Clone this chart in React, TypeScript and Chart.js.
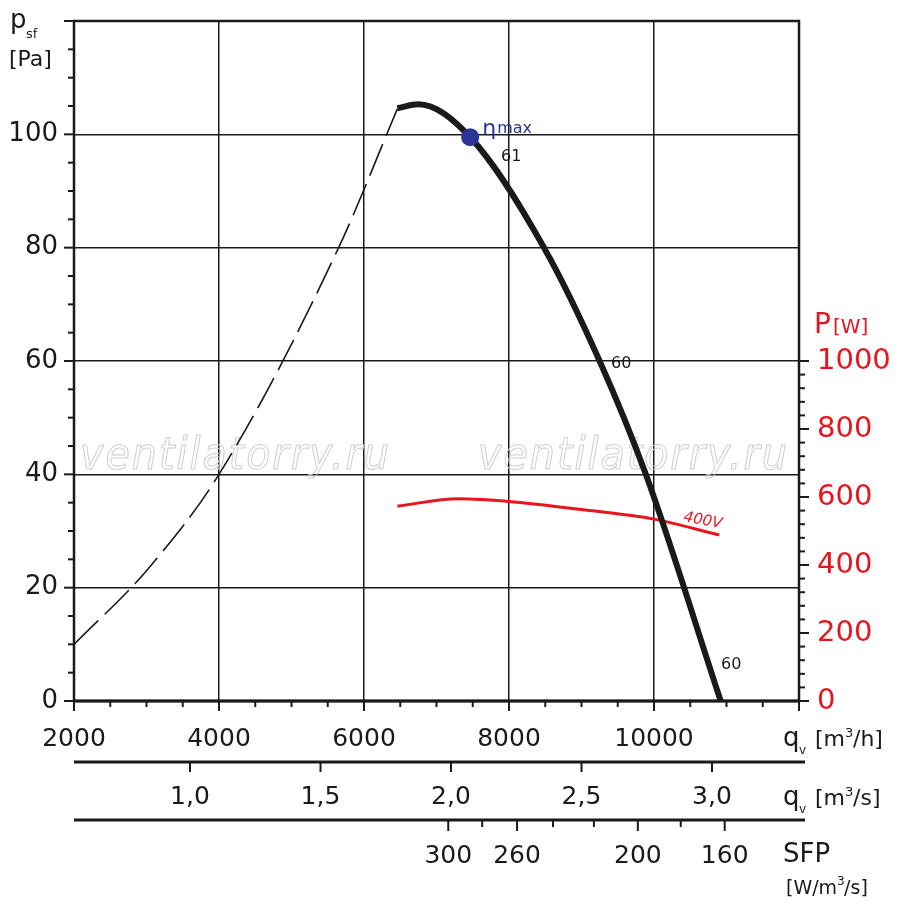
import React, { useEffect, useRef } from 'react';
import { Chart, registerables } from 'chart.js';

Chart.register(...registerables);

// pressure curve, dashed (unstable) part
const stallFlow = [2000, 3000, 4000, 5650, 6460];
const stallPressure = [10, 23, 40, 80, 104.5];
// pressure curve, working part
const workFlow = [6460, 6750, 7464, 8483, 9250, 9887, 10920];
const workPressure = [104.6, 105.3, 99.5, 80, 60, 40, 0];
// power input, 400V
const powerFlow = [6460, 7300, 8000, 9000, 10000, 10900];
const powerWatts = [573, 595, 587, 563, 535, 488];
// secondary axes
const flowSecondsTicks = [1.0, 1.5, 2.0, 2.5, 3.0];
const sfpTicks = [300, 280, 260, 240, 220, 200, 180, 160];
const sfpFlow = [7162, 7630, 8111, 8607, 9171, 9777, 10369, 10975];
const sfpLabelled = [300, 260, 200, 160];

const FONT = "'DejaVu Sans', sans-serif";
const RED = '#e8141e';

const pts = (xs: number[], ys: number[]) => xs.map((x, i) => ({ x, y: ys[i] }));

const decorations = {
  id: 'decorations',
  beforeDatasetsDraw(chart: any) {
    const { ctx } = chart;
    ctx.save();
    ctx.font = `italic 44px 'DejaVu Sans Condensed', ${FONT}`;
    ctx.strokeStyle = '#cfcfcf';
    ctx.lineWidth = 1;
    ctx.textBaseline = 'middle';
    (ctx as any).letterSpacing = '2px';
    ctx.strokeText('ventilatorry.ru', 80, 458);
    ctx.strokeText('ventilatorry.ru', 478, 458);
    ctx.restore();
  },
  afterDraw(chart: any) {
    const { ctx, chartArea: a, scales } = chart;
    const x = scales.x, y = scales.y, y2 = scales.y2;
    ctx.save();
    ctx.strokeStyle = '#1a1a1a';
    ctx.fillStyle = '#1a1a1a';
    // frame
    ctx.lineWidth = 2.5;
    ctx.strokeRect(a.left, a.top, a.right - a.left, a.bottom - a.top);
    ctx.lineWidth = 3;
    ctx.beginPath(); ctx.moveTo(a.left, a.bottom); ctx.lineTo(a.right, a.bottom); ctx.stroke();
    ctx.lineWidth = 2;
    // left ticks
    for (let v = 0; v <= 120; v += 5) {
      const py = y.getPixelForValue(v);
      const len = v % 20 === 0 ? 10 : 6;
      ctx.beginPath(); ctx.moveTo(a.left - len, py); ctx.lineTo(a.left, py); ctx.stroke();
    }
    // bottom ticks
    for (let v = 2000; v <= 12000; v += 500) {
      const px = x.getPixelForValue(v);
      const len = v % 2000 === 0 ? 10 : 6;
      ctx.beginPath(); ctx.moveTo(px, a.bottom); ctx.lineTo(px, a.bottom + len); ctx.stroke();
    }
    // right ticks
    for (let v = 0; v <= 1000; v += 40) {
      const py = y2.getPixelForValue(v);
      const len = v % 200 === 0 ? 10 : 6;
      ctx.beginPath(); ctx.moveTo(a.right, py); ctx.lineTo(a.right + len, py); ctx.stroke();
    }
    // secondary axes
    ctx.lineWidth = 3;
    const l1 = 762, l2 = 820;
    ctx.beginPath(); ctx.moveTo(a.left, l1); ctx.lineTo(a.right + 6, l1); ctx.stroke();
    ctx.beginPath(); ctx.moveTo(a.left, l2); ctx.lineTo(a.right + 6, l2); ctx.stroke();
    ctx.lineWidth = 2;
    ctx.font = `25px ${FONT}`;
    ctx.textAlign = 'center';
    ctx.textBaseline = 'middle';
    flowSecondsTicks.forEach((v) => {
      const px = x.getPixelForValue(v * 3600);
      ctx.beginPath(); ctx.moveTo(px, l1); ctx.lineTo(px, l1 + 10); ctx.stroke();
      ctx.fillText(v.toFixed(1).replace('.', ','), px, 797);
    });
    sfpTicks.forEach((v, i) => {
      const px = x.getPixelForValue(sfpFlow[i]);
      const major = sfpLabelled.includes(v);
      ctx.beginPath(); ctx.moveTo(px, l2); ctx.lineTo(px, l2 + (major ? 11 : 7)); ctx.stroke();
      if (major) ctx.fillText(String(v), px, 856);
    });
    // axis titles
    ctx.textAlign = 'left';
    ctx.textBaseline = 'alphabetic';
    ctx.font = `26px ${FONT}`;
    ctx.fillText('p', 10, 28);
    ctx.font = `13px ${FONT}`;
    ctx.fillText('sf', 26, 38);
    ctx.font = `22px ${FONT}`;
    ctx.fillText('[Pa]', 9, 66);
    const drawQ = (py: number, tail: string) => {
      ctx.font = `26px ${FONT}`;
      ctx.fillText('q', 783, py);
      ctx.font = `12px ${FONT}`;
      ctx.fillText('v', 799, py + 8);
      ctx.font = `22px ${FONT}`;
      ctx.fillText('[m', 815, py);
      const w = ctx.measureText('[m').width;
      ctx.font = `13px ${FONT}`;
      ctx.fillText('3', 815 + w, py - 9);
      ctx.font = `22px ${FONT}`;
      ctx.fillText(tail, 815 + w + 8, py);
    };
    drawQ(746, '/h]');
    drawQ(805, '/s]');
    ctx.font = `26px ${FONT}`;
    ctx.fillText('SFP', 783, 862);
    ctx.font = `19px ${FONT}`;
    ctx.fillText('[W/m', 786, 894);
    const w = ctx.measureText('[W/m').width;
    ctx.font = `12px ${FONT}`;
    ctx.fillText('3', 786 + w, 885);
    ctx.font = `19px ${FONT}`;
    ctx.fillText('/s]', 786 + w + 7, 894);
    // P[W]
    ctx.fillStyle = RED;
    ctx.font = `28px ${FONT}`;
    ctx.fillText('P', 814, 333);
    ctx.font = `20px ${FONT}`;
    ctx.fillText('[W]', 833, 333);
    // curve labels
    ctx.fillStyle = '#1a1a1a';
    ctx.font = `16px ${FONT}`;
    ctx.fillText('61', 501, 161);
    ctx.fillText('60', 611, 368);
    ctx.fillText('60', 721, 669);
    ctx.save();
    ctx.translate(683, 521);
    ctx.rotate(0.18);
    ctx.fillStyle = RED;
    ctx.font = `italic 15px ${FONT}`;
    ctx.fillText('400V', 0, 0);
    ctx.restore();
    // eta max
    const ex = x.getPixelForValue(7464), ey = y.getPixelForValue(99.5);
    ctx.fillStyle = '#2b3595';
    ctx.beginPath(); ctx.arc(ex, ey, 9, 0, Math.PI * 2); ctx.fill();
    ctx.font = `22px ${FONT}`;
    ctx.fillText('η', ex + 12, ey - 2);
    ctx.font = `16px ${FONT}`;
    ctx.fillText('max', ex + 27, ey - 4);
    ctx.restore();
  },
};

export default function App() {
  const canvasRef = useRef<HTMLCanvasElement>(null);
  const chartRef = useRef<Chart | null>(null);

  useEffect(() => {
    document.body.style.margin = '0';
    if (!canvasRef.current) return;
    chartRef.current?.destroy();
    chartRef.current = new Chart(canvasRef.current, {
      type: 'line',
      data: {
        datasets: [
          {
            data: pts(stallFlow, stallPressure),
            borderColor: '#1a1a1a',
            borderWidth: 1.6,
            borderDash: [34, 9],
            pointRadius: 0,
            cubicInterpolationMode: 'monotone',
            yAxisID: 'y',
          },
          {
            data: pts(workFlow, workPressure),
            borderColor: '#1a1a1a',
            borderWidth: 6,
            pointRadius: 0,
            cubicInterpolationMode: 'monotone',
            yAxisID: 'y',
          },
          {
            data: pts(powerFlow, powerWatts),
            borderColor: RED,
            borderWidth: 3,
            pointRadius: 0,
            cubicInterpolationMode: 'monotone',
            yAxisID: 'y2',
          },
        ],
      },
      options: {
        responsive: false,
        animation: false,
        layout: { padding: { left: 0, right: 0, top: 21, bottom: 0 } },
        plugins: { legend: { display: false }, tooltip: { enabled: false } },
        scales: {
          x: {
            type: 'linear',
            min: 2000,
            max: 12000,
            afterBuildTicks: (s: any) => { s.ticks = [2000, 4000, 6000, 8000, 10000].map((v) => ({ value: v })); },
            afterFit: (s: any) => { s.height = 207; s.paddingLeft = 0; s.paddingRight = 0; },
            border: { display: false },
            grid: { color: '#1a1a1a', lineWidth: 1.5, drawTicks: false },
            ticks: { color: '#1a1a1a', font: { family: FONT, size: 25 }, padding: 23, maxRotation: 0, callback: (v: any) => String(v) },
          },
          y: {
            min: 0,
            max: 120,
            afterBuildTicks: (s: any) => { s.ticks = [0, 20, 40, 60, 80, 100].map((v) => ({ value: v })); },
            afterFit: (s: any) => { s.width = 74; s.paddingTop = 0; s.paddingBottom = 0; },
            border: { display: false },
            grid: { color: '#1a1a1a', lineWidth: 1.5, drawTicks: false },
            ticks: { color: '#1a1a1a', font: { family: FONT, size: 26 }, padding: 16, callback: (v: any) => String(v) },
          },
          y2: {
            position: 'right',
            min: 0,
            max: 2000,
            afterBuildTicks: (s: any) => { s.ticks = [0, 200, 400, 600, 800, 1000].map((v) => ({ value: v })); },
            afterFit: (s: any) => { s.width = 101; s.paddingTop = 0; s.paddingBottom = 0; },
            border: { display: false },
            grid: { display: false, drawTicks: false },
            ticks: { color: RED, font: { family: FONT, size: 29 }, padding: 18, callback: (v: any) => String(v) },
          },
        },
      },
      plugins: [decorations],
    } as any);
    return () => {
      chartRef.current?.destroy();
      chartRef.current = null;
    };
  }, []);

  return <canvas ref={canvasRef} width={900} height={908} aria-label="Fan performance chart" role="img" />;
}
